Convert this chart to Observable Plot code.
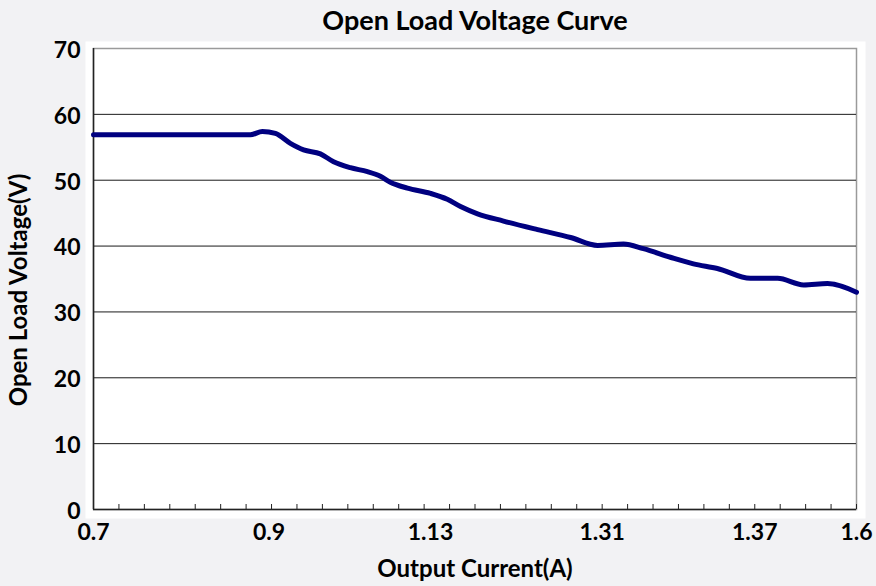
<!DOCTYPE html>
<html><head><meta charset="utf-8">
<script src="https://cdn.jsdelivr.net/npm/d3@7"></script>
<script src="https://cdn.jsdelivr.net/npm/@observablehq/plot@0.6"></script>
<style>
html,body{margin:0;padding:0;background:#f2f2f4;}
#chart{width:876px;height:586px;}
</style></head><body><div id="chart"></div>
<script>
// position along the category axis (0..30 minor tick steps) and read voltage
const position = [0, 6.17, 6.64, 7.15, 7.74, 8.26, 8.92, 9.44, 10.1, 10.77, 11.28, 11.67, 12.34, 13.25, 13.91, 14.43, 15.1, 16.12, 17.46, 18.76, 19.82, 20.84, 21.62, 22.68, 23.59, 24.53, 25.83, 26.9, 27.92, 28.86, 30];
const voltage = [56.9, 56.9, 57.4, 57.1, 55.6, 54.6, 54.0, 52.8, 51.9, 51.3, 50.6, 49.7, 48.8, 48.0, 47.1, 46.0, 44.9, 43.8, 42.5, 41.3, 40.1, 40.3, 39.6, 38.3, 37.3, 36.6, 35.1, 35.1, 34.1, 34.3, 33.0];
const currentLabels = ["0.7", "0.9", "1.13", "1.31", "1.37", "1.6"];
const labelPositions = [0, 6.9, 13.25, 20, 26, 30];
const minorTicks = d3.range(0, 31);
const yTicks = [0, 10, 20, 30, 40, 50, 60, 70];
const gridValues = [10, 20, 30, 40, 50, 60];

const font = "Lato, 'Open Sans', sans-serif";
const chart = Plot.plot({
  width: 876, height: 586,
  marginTop: 48, marginLeft: 93, marginRight: 20, marginBottom: 77,
  style: {background: "transparent", fontFamily: font, fontWeight: "bold", color: "#000"},
  x: {domain: [0, 30]},
  y: {domain: [0, 70]},
  marks: [
    Plot.frame({fill: "white", stroke: null, insetLeft: -8, insetRight: -9, insetTop: -7, insetBottom: -9}),
    Plot.frame({stroke: "#9a9a9a", strokeWidth: 1.5}),
    Plot.ruleY(gridValues, {stroke: "#1a1a1a", strokeWidth: 1}),
    Plot.ruleY([0], {stroke: "#222", strokeWidth: 1.5}),
    Plot.ruleX([0], {stroke: "#222", strokeWidth: 1.5}),
    Plot.axisX(minorTicks, {tickSize: -5, stroke: "#222", tickFormat: () => "", label: null}),
    Plot.axisX(labelPositions, {tickSize: 0, tickPadding: 14, fontSize: 23, fill: "#000",
      tickFormat: d => currentLabels[labelPositions.indexOf(d)], label: null}),
    Plot.axisY(yTicks, {tickSize: 0, tickPadding: 13, dy: 2, fontSize: 23, fill: "#000", label: null}),
    Plot.line(position, {x: position, y: voltage, stroke: "#000080", strokeWidth: 5, curve: "monotone-x"}),
    Plot.text(["Open Load Voltage Curve"], {frameAnchor: "top", lineAnchor: "middle", dy: -27, fontSize: 27, fontWeight: "bold", fill: "#000"}),
    Plot.text(["Output Current(A)"], {frameAnchor: "bottom", lineAnchor: "middle", dy: 60, fontSize: 24, fontWeight: "bold", fill: "#000"}),
    Plot.text(["Open Load Voltage(V)"], {frameAnchor: "left", textAnchor: "middle", lineAnchor: "middle", dx: -74, dy: 11, rotate: -90, fontSize: 24, fontWeight: "bold", fill: "#000"})
  ]
});
document.getElementById("chart").append(chart);
</script></body></html>
